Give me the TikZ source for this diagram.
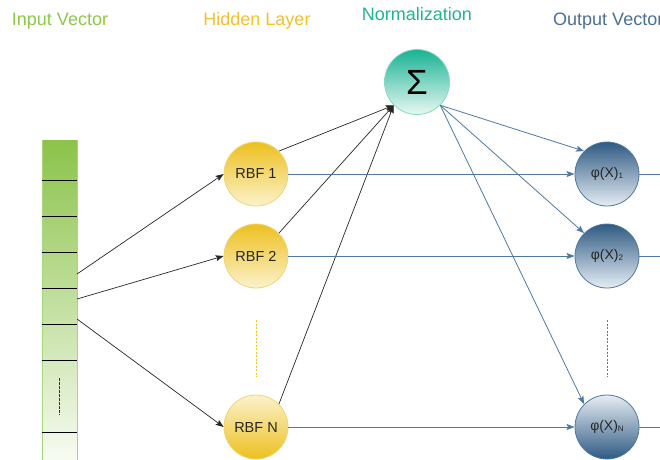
\documentclass[tikz,border=0pt]{standalone}
\usepackage{fontspec}
\setmainfont{Liberation Sans}
\usetikzlibrary{arrows.meta}

\definecolor{lblgreen}{HTML}{8CC84B}
\definecolor{lblgold}{HTML}{F2C12E}
\definecolor{lblteal}{HTML}{1DB494}
\definecolor{lblblue}{HTML}{4B6F94}
\definecolor{colgreen}{HTML}{8BC34A}
\definecolor{collight}{HTML}{F8FBF3}
\definecolor{colborder}{HTML}{A6D77A}
\definecolor{goldtop}{HTML}{EDC01F}
\definecolor{goldbot}{HTML}{FBF2CC}
\definecolor{goldline}{HTML}{F1D574}
\definecolor{tealtop}{HTML}{19B393}
\definecolor{tealbot}{HTML}{E9F8F4}
\definecolor{tealline}{HTML}{86D9C4}
\definecolor{bluetop}{HTML}{2F5A82}
\definecolor{bluebot}{HTML}{E6EDF4}
\definecolor{blueline}{HTML}{4F79A0}

\tikzset{
  heading/.style={font=\fontsize{18}{18}\selectfont, inner sep=0pt, anchor=base},
  rbfnode/.style={circle, minimum size=64pt, inner sep=0pt, draw=goldline, line width=0.8pt,
                  font=\fontsize{14.5}{14.5}\selectfont, text=black!85},
  signode/.style={circle, minimum size=65pt, inner sep=0pt, draw=tealline, line width=0.8pt,
                  top color=tealtop, bottom color=tealbot},
  outnode/.style={circle, minimum size=64pt, inner sep=0pt, draw=blueline, line width=0.8pt,
                  font=\fontsize{14}{14}\selectfont, text=black!85},
  blackarrow/.style={draw=black!85, line width=0.7pt, -{Stealth[length=8pt,width=6pt,inset=1.5pt]}},
  bluearrow/.style={draw=blueline, line width=0.8pt, -{Stealth[length=8pt,width=6pt,inset=1.5pt]}},
  blueline/.style={draw=blueline, line width=0.8pt},
  divider/.style={draw=black, line width=0.9pt}
}

\begin{document}
\begin{tikzpicture}[x=1pt, y=-1pt]
\useasboundingbox (0,0) rectangle (660,459);

% headings
\node[heading, text=lblgreen] (hin)  at (60,25)  {Input Vector};
\node[heading, text=lblgold]  (hhid) at (257,25) {Hidden Layer};
\node[heading, text=lblteal]  (hnorm) at (417,20) {Normalization};
\node[heading, text=lblblue, anchor=base west] (hout) at (553,25) {Output Vector};

% input vector column
\shade[top color=colgreen, bottom color=collight] (42,140) rectangle (77,462);
\draw[colborder, line width=0.8pt] (42,140) -- (42,462) (77,140) -- (77,462);
\foreach \yy in {180,216,252,288,324,360,432}
  \draw[divider] (42,\yy) -- (77,\yy);
\draw[black!80, line width=0.9pt, dash pattern=on 2.5pt off 1.5pt] (59,378) -- (59,415);

\coordinate (in1) at (77,274);
\coordinate (in2) at (77,299);
\coordinate (in3) at (77,319);

% hidden layer
\node[rbfnode, top color=goldtop, bottom color=goldbot] (rbf1) at (256,174) {RBF 1};
\node[rbfnode, top color=goldtop, bottom color=goldbot] (rbf2) at (256,256) {RBF 2};
\node[rbfnode, top color=goldbot, bottom color=goldtop] (rbfn) at (256,427) {RBF N};
\draw[lblgold, line width=0.9pt, dash pattern=on 2pt off 1.5pt] (256,320) -- (256,377);

% normalization
\node[signode] (sig) at (417,82) {\fontsize{35}{35}\selectfont Σ};

% output vector
\node[outnode, top color=bluetop, bottom color=bluebot] (phi1) at (607,174)
  {φ(X)\raisebox{-0.5pt}{\fontsize{8}{8}\selectfont 1}};
\node[outnode, top color=bluetop, bottom color=bluebot] (phi2) at (607,256)
  {φ(X)\raisebox{-0.5pt}{\fontsize{8}{8}\selectfont 2}};
\node[outnode, top color=bluebot, bottom color=bluetop] (phin) at (607,427)
  {φ(X)\raisebox{-0.5pt}{\fontsize{8}{8}\selectfont N}};
\draw[blueline, line width=0.9pt, dash pattern=on 2pt off 1.5pt] (607,320) -- (607,377);

\coordinate (o1) at (662,174);
\coordinate (o2) at (662,256);
\coordinate (o3) at (662,427);

% input to hidden
\draw[blackarrow] (in1) -- (rbf1.west);
\draw[blackarrow] (in2) -- (rbf2.west);
\draw[blackarrow] (in3) -- (rbfn.west);

% hidden to normalization
\draw[blackarrow] (rbf1.45) -- (sig.225);
\draw[blackarrow] (rbf2.45) -- (sig.225);
\draw[blackarrow] (rbfn.45) -- (sig.225);

% hidden to output
\draw[bluearrow] (rbf1.east) -- (phi1.west);
\draw[bluearrow] (rbf2.east) -- (phi2.west);
\draw[bluearrow] (rbfn.east) -- (phin.west);

% normalization to output
\draw[bluearrow] (sig.-45) -- (phi1.135);
\draw[bluearrow] (sig.-45) -- (phi2.135);
\draw[bluearrow] (sig.-45) -- (phin.135);

% outputs leaving
\draw[blueline] (phi1.east) -- (o1);
\draw[blueline] (phi2.east) -- (o2);
\draw[blueline] (phin.east) -- (o3);
\end{tikzpicture}
\end{document}
